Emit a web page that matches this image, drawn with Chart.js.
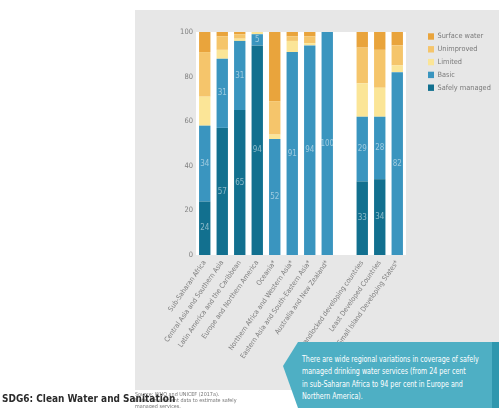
<!DOCTYPE html>
<html>
<head>
<meta charset="utf-8">
<script src="https://cdn.jsdelivr.net/npm/chart.js@4/dist/chart.umd.min.js"></script>
<style>
  html, body { margin: 0; padding: 0; background: #ffffff; }
  body { width: 499px; height: 408px; position: relative; overflow: hidden;
         font-family: 'Liberation Sans Narrow', 'DejaVu Sans Condensed', 'Liberation Sans', sans-serif; }
  #panel { position: absolute; left: 135px; top: 10px; width: 364px; height: 380px; background: #e7e7e7; }
  #wrap { position: absolute; left: 0; top: 0; width: 499px; height: 408px; }
  #callout { position: absolute; left: 283px; top: 342px; width: 216px; height: 66px;
             background: #4eafc4; clip-path: polygon(15px 0, 100% 0, 100% 100%, 15px 100%, 0 24px); }
  #callout .edge { position: absolute; right: 0; top: 0; width: 7px; height: 100%; background: #2f97ae; }
  #callout p { margin: 0; position: absolute; left: 19px; top: 11px; color: #ffffff;
               font-size: 8.3px; line-height: 12.4px; white-space: nowrap;
               transform: scaleX(0.85); transform-origin: 0 0; }
  #title { position: absolute; left: 2px; top: 392px; font-size: 10.5px; font-weight: bold; color: #2b2b2b; white-space: nowrap;
           transform: scaleX(0.95); transform-origin: 0 0; }
  #source { position: absolute; left: 135px; top: 391px; font-size: 5.4px; line-height: 6px; color: #777; white-space: nowrap; }
</style>
</head>
<body>
<div id="panel"></div>
<div id="wrap"><canvas id="c" width="499" height="408"></canvas></div>
<div id="callout"><div class="edge"></div><p>There are wide regional variations in coverage of safely<br>managed drinking water services (from 24 per cent<br>in sub-Saharan Africa to 94 per cent in Europe and<br>Northern America).</p></div>
<div id="source">Source: WHO and UNICEF (2017a).<br>Note: *Insufficient data to estimate safely<br>managed services.</div>
<div id="title">SDG6: Clean Water and Sanitation</div>
<script>
// Regions and groups (empty slot separates the country groupings)
const categories = [
  'Sub-Saharan Africa',
  'Central Asia and Southern Asia',
  'Latin America and the Caribbean',
  'Europe and Northern America',
  'Oceania*',
  'Northern Africa and Western Asia*',
  'Eastern Asia and South-Eastern Asia*',
  'Australia and New Zealand*',
  '',
  'Landlocked developing countries',
  'Least Developed Countries',
  'Small Island Developing States*'
];

// Drinking water service levels, per cent of population
const safelyManaged = [24, 57, 65, 94, null, null, null, null, null, 33, 34, null];
const basic         = [34, 31, 31, 5, 52, 91, 94, 100, null, 29, 28, 82];
const limited       = [13, 4, 1, 1, 2, 5, 1, 0, null, 15, 13, 3];
const unimproved    = [20, 6, 2, 0, 15, 2, 3, 0, null, 16, 17, 9];
const surfaceWater  = [9, 2, 1, 0, 31, 2, 2, 0, null, 7, 8, 6];

const yTicks = [0, 20, 40, 60, 80, 100];

const FONT = "'Liberation Sans Narrow', 'DejaVu Sans Condensed', 'Liberation Sans', sans-serif";

// White plotting field behind the bars
const plotBackground = {
  id: 'plotBackground',
  beforeDraw(chart) {
    const { ctx, chartArea: a } = chart;
    ctx.save();
    ctx.fillStyle = '#ffffff';
    ctx.fillRect(a.left, a.top, a.right - a.left, a.bottom - a.top);
    ctx.restore();
  }
};

// Values printed inside the two blue segments
const segmentLabels = {
  id: 'segmentLabels',
  afterDatasetsDraw(chart) {
    const { ctx } = chart;
    ctx.save();
    ctx.font = '8px ' + FONT;
    ctx.textAlign = 'center';
    ctx.textBaseline = 'middle';
    ctx.fillStyle = 'rgba(255,255,255,0.5)';
    [0, 1].forEach(di => {
      const meta = chart.getDatasetMeta(di);
      const data = chart.data.datasets[di].data;
      meta.data.forEach((el, i) => {
        const v = data[i];
        if (v === null || v === 0) return;
        ctx.fillText(String(v), el.x, (el.y + el.base) / 2);
      });
    });
    ctx.restore();
  }
};

// Legend column at the right, top item = top of the stack
const sideLegend = {
  id: 'sideLegend',
  afterDraw(chart) {
    const { ctx } = chart;
    const ds = chart.data.datasets.slice().reverse();
    ctx.save();
    ctx.font = '7.3px ' + FONT;
    ctx.textBaseline = 'middle';
    ds.forEach((d, i) => {
      const y = 36.5 + i * 12.8;
      ctx.fillStyle = d.backgroundColor;
      ctx.fillRect(428, y - 3.2, 6, 6.4);
      ctx.fillStyle = '#7a7a7a';
      ctx.fillText(d.label, 437.5, y);
    });
    ctx.restore();
  }
};

new Chart(document.getElementById('c'), {
  type: 'bar',
  data: {
    labels: categories,
    datasets: [
      { label: 'Safely managed', data: safelyManaged, backgroundColor: '#12708f' },
      { label: 'Basic',          data: basic,         backgroundColor: '#3a95bf' },
      { label: 'Limited',        data: limited,       backgroundColor: '#fbe597' },
      { label: 'Unimproved',     data: unimproved,    backgroundColor: '#f5c56b' },
      { label: 'Surface water',  data: surfaceWater,  backgroundColor: '#e9a43c' }
    ]
  },
  options: {
    responsive: false,
    animation: false,
    devicePixelRatio: 1,
    layout: { padding: { left: 136, right: 93, top: 32, bottom: 0 } },
    datasets: { bar: { categoryPercentage: 1, barPercentage: 0.65, borderWidth: 0 } },
    plugins: { legend: { display: false }, tooltip: { enabled: false } },
    scales: {
      x: {
        stacked: true,
        grid: { display: false, drawTicks: false },
        border: { display: false },
        ticks: {
          autoSkip: false, minRotation: 55, maxRotation: 55, padding: 4,
          color: '#7d7d7d', font: { family: FONT, size: 7 }
        },
        afterFit(scale) { scale.height = 153; }
      },
      y: {
        stacked: true, min: 0, max: 100,
        grid: { display: false, drawTicks: false },
        border: { display: false },
        afterBuildTicks(scale) { scale.ticks = yTicks.map(v => ({ value: v })); },
        ticks: { padding: 3, color: '#808080', font: { family: FONT, size: 7.5 } },
        afterFit(scale) { scale.width = 60; }
      }
    }
  },
  plugins: [plotBackground, segmentLabels, sideLegend]
});
</script>
</body>
</html>
